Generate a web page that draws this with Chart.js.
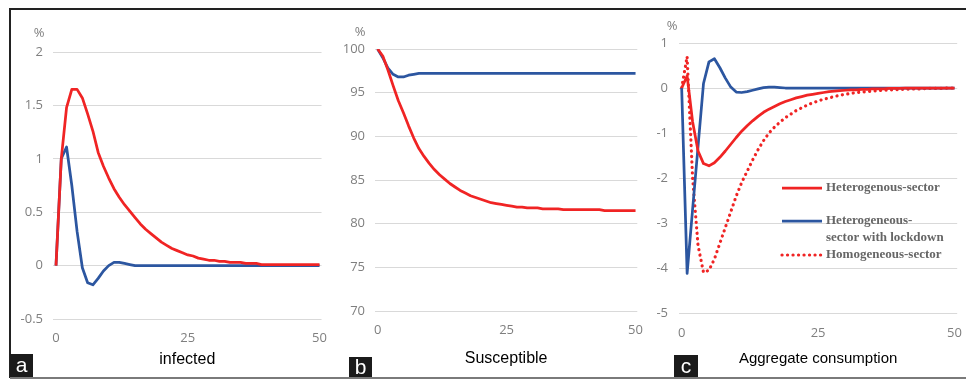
<!DOCTYPE html>
<html>
<head>
<meta charset="utf-8">
<script src="https://cdn.jsdelivr.net/npm/chart.js@4.4.1/dist/chart.umd.min.js"></script>
<style>
  html, body { margin: 0; padding: 0; background: #fff; }
  #frame { position: relative; width: 966px; height: 379px; overflow: hidden; background: #fff; }
  #frame canvas { position: absolute; top: 0; }
  .rule { position: absolute; }
  .tag { position: absolute; background: #1b1b1b; color: #fff; text-align: center;
         font-family: "Liberation Sans", Arial, sans-serif; font-size: 21px; }
</style>
</head>
<body>
<div id="frame">
  <canvas id="chartA" width="330" height="379" style="left:0px"></canvas>
  <canvas id="chartB" width="316" height="379" style="left:330px"></canvas>
  <canvas id="chartC" width="320" height="379" style="left:646px"></canvas>
  <div class="rule" style="left:10px;top:8px;width:956px;height:2px;background:#222"></div>
  <div class="rule" style="left:9px;top:8px;width:2px;height:370px;background:#222"></div>
  <div class="rule" style="left:10px;top:377px;width:956px;height:2px;background:#7a7a7a"></div>
  <div class="tag" style="left:10px;top:354px;width:23px;height:23px;line-height:21px">a</div>
  <div class="tag" style="left:349px;top:357px;width:23px;height:20px;line-height:20px">b</div>
  <div class="tag" style="left:674px;top:355px;width:24px;height:22px;line-height:22px">c</div>
</div>
<script>
// periods of the simulation (x axis)
const periods = [0,1,2,3,4,5,6,7,8,9,10,11,12,13,14,15,16,17,18,19,20,21,22,23,24,25,
  26,27,28,29,30,31,32,33,34,35,36,37,38,39,40,41,42,43,44,45,46,47,48,49,50];
const xTicks = [0, 25, 50];

const seriesNames = ['Heterogenous-sector', 'Heterogeneous-sector with lockdown', 'Homogeneous-sector'];
const legendText = [['Heterogenous-sector'], ['Heterogeneous-', 'sector with lockdown'], ['Homogeneous-sector']];

// a - infected
const infectedHetero = [0, 1.0, 1.48, 1.65, 1.65, 1.57, 1.42, 1.26, 1.06, 0.93, 0.82, 0.72, 0.64, 0.57, 0.51,
  0.45, 0.39, 0.34, 0.3, 0.26, 0.22, 0.19, 0.16, 0.14, 0.12, 0.1, 0.09, 0.07, 0.06, 0.05, 0.05,
  0.04, 0.04, 0.03, 0.03, 0.03, 0.02, 0.02, 0.02, 0.01, 0.01, 0.01, 0.01, 0.01, 0.01, 0.01, 0.01,
  0.01, 0.01, 0.01, 0.01];
const infectedLockdown = [0, 1.0, 1.11, 0.75, 0.32, -0.02, -0.16, -0.18, -0.12, -0.05, 0.0, 0.03, 0.03,
  0.02, 0.01, 0, 0, 0, 0, 0, 0, 0, 0, 0, 0, 0, 0, 0, 0, 0, 0, 0, 0, 0, 0, 0, 0, 0, 0, 0, 0,
  0, 0, 0, 0, 0, 0, 0, 0, 0, 0];

// b - susceptible
const susceptibleHetero = [100, 99.2, 97.6, 95.8, 94.1, 92.7, 91.2, 89.8, 88.6, 87.7, 86.9, 86.2, 85.6,
  85.1, 84.6, 84.2, 83.8, 83.5, 83.2, 83.0, 82.8, 82.6, 82.4, 82.3, 82.2, 82.1, 82.0, 81.9, 81.9,
  81.8, 81.8, 81.8, 81.7, 81.7, 81.7, 81.7, 81.6, 81.6, 81.6, 81.6, 81.6, 81.6, 81.6, 81.6, 81.5,
  81.5, 81.5, 81.5, 81.5, 81.5, 81.5];
const susceptibleLockdown = [100, 99.0, 97.8, 97.1, 96.8, 96.8, 97.0, 97.1, 97.2, 97.2, 97.2, 97.2, 97.2,
  97.2, 97.2, 97.2, 97.2, 97.2, 97.2, 97.2, 97.2, 97.2, 97.2, 97.2, 97.2, 97.2, 97.2, 97.2, 97.2,
  97.2, 97.2, 97.2, 97.2, 97.2, 97.2, 97.2, 97.2, 97.2, 97.2, 97.2, 97.2, 97.2, 97.2, 97.2, 97.2,
  97.2, 97.2, 97.2, 97.2, 97.2, 97.2];

// c - aggregate consumption
const consumptionHetero = [0, 0.27, -0.75, -1.4, -1.68, -1.73, -1.66, -1.54, -1.4, -1.25, -1.1, -0.96,
  -0.84, -0.73, -0.63, -0.54, -0.47, -0.41, -0.35, -0.3, -0.26, -0.22, -0.19, -0.16, -0.14, -0.12,
  -0.1, -0.08, -0.07, -0.06, -0.05, -0.04, -0.04, -0.03, -0.03, -0.02, -0.02, -0.02, -0.01, -0.01,
  -0.01, 0, 0, 0, 0, 0, 0, 0, 0, 0, 0];
const consumptionLockdown = [0, -4.12, -2.7, -1.3, 0.1, 0.58, 0.65, 0.45, 0.22, 0.02, -0.09, -0.1, -0.08,
  -0.05, -0.02, 0.01, 0.02, 0.02, 0.01, 0, 0, 0, 0, 0, 0, 0, 0, 0, 0, 0, 0, 0, 0, 0, 0, 0, 0,
  0, 0, 0, 0, 0, 0, 0, 0, 0, 0, 0, 0, 0, 0];
const consumptionHomo = [0, 0.7, -2.0, -3.5, -4.1, -4.05, -3.8, -3.45, -3.1, -2.75, -2.4, -2.1, -1.85,
  -1.6, -1.37, -1.17, -1.0, -0.87, -0.76, -0.66, -0.58, -0.5, -0.44, -0.38, -0.33, -0.29, -0.25,
  -0.22, -0.19, -0.16, -0.14, -0.12, -0.1, -0.09, -0.08, -0.07, -0.06, -0.05, -0.04, -0.04, -0.03,
  -0.03, -0.02, -0.02, -0.02, -0.01, -0.01, -0.01, -0.01, 0, 0];

const RED = '#f02424';
const BLUE = '#2c56a0';
const GRAY = '#7f7f7f';
const tickFont = { family: 'Open Sans', size: 13 };

function redLine(values) {
  return { label: seriesNames[0], data: values, borderColor: RED, borderWidth: 2.75 };
}
function blueLine(values) {
  return { label: seriesNames[1], data: values, borderColor: BLUE, borderWidth: 2.75 };
}
function dottedLine(values) {
  return { label: seriesNames[2], data: values, borderColor: RED, borderWidth: 3.2,
           borderDash: [0.1, 5.4], borderCapStyle: 'round' };
}

// "%" unit above the y axis and the in-plot legend of panel c
const extras = {
  id: 'extras',
  afterDraw(chart, args, opts) {
    const ctx = chart.ctx;
    const area = chart.chartArea;
    ctx.save();
    ctx.font = '13px "Open Sans"';
    ctx.fillStyle = GRAY;
    ctx.textAlign = 'center';
    ctx.textBaseline = 'middle';
    ctx.fillText('%', area.left + opts.unitDx, area.top + opts.unitDy);

    if (opts.legend) {
      const lg = opts.legend;
      chart.data.datasets.forEach((ds, i) => {
        const y = lg.rows[i];
        ctx.strokeStyle = ds.borderColor;
        ctx.lineWidth = ds.borderWidth;
        ctx.setLineDash(ds.borderDash || []);
        ctx.lineCap = ds.borderCapStyle || 'butt';
        ctx.beginPath();
        ctx.moveTo(lg.x0, y);
        ctx.lineTo(lg.x1, y);
        ctx.stroke();
        ctx.setLineDash([]);
        ctx.font = 'bold 13px "Liberation Serif"';
        ctx.fillStyle = '#666666';
        ctx.textAlign = 'left';
        legendText[i].forEach((t, k) => ctx.fillText(t, lg.textX, y + k * 17));
      });
    }
    ctx.restore();
  }
};

function panel(id, cfg) {
  return new Chart(document.getElementById(id), {
    type: 'line',
    data: { labels: periods, datasets: cfg.datasets },
    options: {
      responsive: false,
      animation: false,
      layout: { padding: { left: 0, right: cfg.padRight, top: cfg.padTop, bottom: 0 } },
      elements: { point: { radius: 0 }, line: { tension: 0, borderJoinStyle: 'round' } },
      plugins: { legend: { display: false }, tooltip: { enabled: false }, extras: cfg.extras },
      scales: {
        x: {
          type: 'linear', min: cfg.xMin, max: cfg.xMax,
          grid: { display: false }, border: { display: false },
          afterBuildTicks: s => { s.ticks = xTicks.map(v => ({ value: v })); },
          afterFit: s => { s.height = cfg.xHeight; },
          ticks: { padding: cfg.xPad, font: tickFont, color: GRAY, maxRotation: 0, autoSkip: false },
          title: { display: true, text: cfg.title, color: '#000',
                   font: { family: 'Liberation Sans', size: cfg.titleSize },
                   padding: { top: 0, bottom: cfg.titlePad } }
        },
        y: {
          min: cfg.yMin, max: cfg.yMax,
          ticks: { stepSize: cfg.yStep, padding: cfg.yPad, font: tickFont, color: GRAY,
                   callback: v => String(Math.round(v * 100) / 100) },
          grid: { color: '#d9d9d9', lineWidth: 1, drawTicks: false },
          border: { display: false },
          afterFit: s => { s.width = cfg.yWidth; }
        }
      }
    },
    plugins: [extras]
  });
}

panel('chartA', {
  datasets: [redLine(infectedHetero), blueLine(infectedLockdown)],
  title: 'infected', titleSize: 16, titlePad: 10,
  xMin: -0.57, xMax: 50.38, xHeight: 60, xPad: 3,
  yMin: -0.5, yMax: 2, yStep: 0.5, yWidth: 53, yPad: 10,
  padTop: 52, padRight: 7,
  extras: { unitDx: -14, unitDy: -19 }
});

panel('chartB', {
  datasets: [redLine(susceptibleHetero), blueLine(susceptibleLockdown)],
  title: 'Susceptible', titleSize: 16, titlePad: 11,
  xMin: -0.51, xMax: 50.34, xHeight: 68, xPad: 3,
  yMin: 70, yMax: 100, yStep: 5, yWidth: 45, yPad: 10,
  padTop: 49, padRight: 3,
  extras: { unitDx: -15, unitDy: -17 }
});

panel('chartC', {
  datasets: [redLine(consumptionHetero), blueLine(consumptionLockdown), dottedLine(consumptionHomo)],
  title: 'Aggregate consumption', titleSize: 15, titlePad: 11,
  xMin: -0.49, xMax: 50.49, xHeight: 66, xPad: 4,
  yMin: -5, yMax: 1, yStep: 1, yWidth: 33, yPad: 11,
  padTop: 43, padRight: 4,
  extras: { unitDx: -7, unitDy: -17,
            legend: { x0: 136, x1: 176, textX: 180, rows: [188, 221, 255] } }
});
</script>
</body>
</html>
